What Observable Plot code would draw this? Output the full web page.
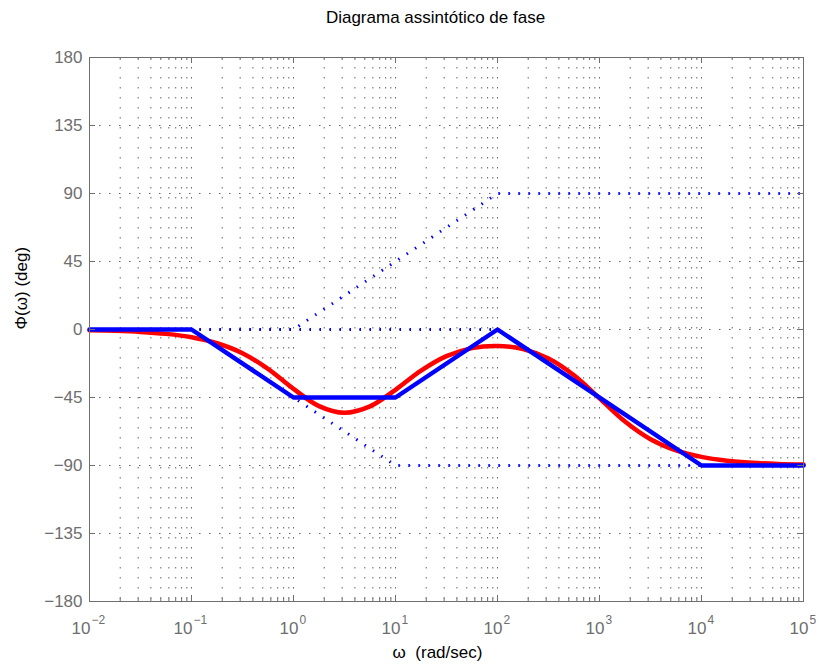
<!DOCTYPE html>
<html>
<head>
<meta charset="utf-8">
<script src="https://cdn.jsdelivr.net/npm/d3@7"></script>
<script src="https://cdn.jsdelivr.net/npm/@observablehq/plot@0.6"></script>
<style>
  html, body { margin: 0; padding: 0; background: #fff; }
</style>
</head>
<body>
<div id="chart"></div>
<script>
// ---- Data ----
const title = "Diagrama assintótico de fase";
const xLabel = "ω  (rad/sec)";
const yLabel = "Φ(ω) (deg)";

// exact phase curve (red), sampled every quarter decade
const exactW = [0.01, 0.0178, 0.0316, 0.0562, 0.1, 0.178, 0.316, 0.562, 1, 1.78, 3.16, 5.62, 10, 17.8, 31.6, 56.2, 100, 178, 316, 562, 1000, 1778, 3162, 5623, 1e4, 17783, 31623, 56234, 1e5];
const exactPhase = [-0.5, -0.9, -1.6, -2.9, -5.1, -9.1, -15.7, -26.1, -39.3, -50.7, -55.1, -50.9, -39.9, -27.2, -17.6, -12.3, -10.9, -13.0, -19.2, -30.3, -45.5, -60.9, -72.6, -80.0, -84.3, -86.8, -88.2, -89.0, -89.4];

// total asymptotic phase (solid blue)
const asymW = [0.01, 0.1, 1, 10, 100, 1e4, 1e5];
const asymPhase = [0, 0, -45, -45, 0, -90, -90];

// individual factor asymptotes (dotted blue)
const pole1W = [0.01, 0.1, 10, 1e5];
const pole1Phase = [0, 0, -90, -90];
const zero10W = [0.01, 1, 100, 1e5];
const zero10Phase = [0, 0, 90, 90];
const pole1000W = [0.01, 100, 1e4, 1e5];
const pole1000Phase = [0, 0, -90, -90];

// ticks
const xExponents = [-2, -1, 0, 1, 2, 3, 4, 5];
const xMinorMultipliers = [2, 3, 4, 5, 6, 7, 8, 9];
const yTicks = [-180, -135, -90, -45, 0, 45, 90, 135, 180];

// ---- Build tables ----
const zip = (xs, ys) => xs.map((x, i) => ({x, y: ys[i]}));
const exact = zip(exactW, exactPhase);
const asym = zip(asymW, asymPhase);
const comps = [zip(pole1W, pole1Phase), zip(zero10W, zero10Phase), zip(pole1000W, pole1000Phase)];
const xMajor = xExponents.map(e => 10 ** e);
const xMinor = [];
for (const e of xExponents.slice(0, -1)) for (const m of xMinorMultipliers) xMinor.push(m * 10 ** e);
const xGrid = xMajor.concat(xMinor);

const W = 819, H = 664;
const mL = 89, mR = 16, mT = 57, mB = 63;
const plotH = H - mT - mB;
const plotW = W - mL - mR;
const gray = "#6e6e6e";
const fmt = v => v < 0 ? "\u2212" + Math.abs(v) : String(v);

const negExp = xExponents.filter(e => e < 0);
const posExp = xExponents.filter(e => e >= 0);

const chart = Plot.plot({
  width: W, height: H,
  marginLeft: mL, marginRight: mR, marginTop: mT, marginBottom: mB,
  style: {fontFamily: "'Liberation Sans', Arial, Helvetica, sans-serif", background: "#fff", overflow: "visible"},
  x: {type: "log", domain: [1e-2, 1e5], axis: null},
  y: {domain: [-180, 180], axis: null},
  marks: [
    // grid
    Plot.ruleX(xGrid, {x: d => d, stroke: "#666", strokeWidth: 1, strokeDasharray: "1.5,8.5"}),
    Plot.ruleY(yTicks, {y: d => d, stroke: "#666", strokeWidth: 1, strokeDasharray: "1.5,8.5"}),
    // dotted factor asymptotes
    ...comps.map(c => Plot.line(c, {x: "x", y: "y", stroke: "#0000ff", strokeWidth: 3, strokeDasharray: "1.5,8.5", strokeLinecap: "butt"})),
    // exact curve
    Plot.line(exact, {x: "x", y: "y", stroke: "#ff0000", strokeWidth: 4.5, curve: "catmull-rom"}),
    // asymptotic total
    Plot.line(asym, {x: "x", y: "y", stroke: "#0000ff", strokeWidth: 4.5}),
    // frame
    Plot.frame({stroke: gray, strokeWidth: 1}),
    // inward ticks
    Plot.tickX(xMajor, {x: d => d, stroke: gray, insetTop: plotH - 6}),
    Plot.tickX(xMajor, {x: d => d, stroke: gray, insetBottom: plotH - 6}),
    Plot.tickX(xMinor, {x: d => d, stroke: gray, insetTop: plotH - 3}),
    Plot.tickX(xMinor, {x: d => d, stroke: gray, insetBottom: plotH - 3}),
    Plot.tickY(yTicks, {y: d => d, stroke: gray, insetRight: plotW - 6}),
    Plot.tickY(yTicks, {y: d => d, stroke: gray, insetLeft: plotW - 6}),
    // y tick labels
    Plot.text(yTicks, {y: d => d, frameAnchor: "left", dx: -7, textAnchor: "end", text: fmt, fontSize: 17, fill: gray}),
    // x tick labels: "10" + superscript exponent
    Plot.text(negExp, {x: e => 10 ** e, frameAnchor: "bottom", dy: 32, dx: 1, lineAnchor: "bottom", textAnchor: "end", text: () => "10", fontSize: 17, fill: gray}),
    Plot.text(negExp, {x: e => 10 ** e, frameAnchor: "bottom", dy: 22, dx: 2, lineAnchor: "bottom", textAnchor: "start", text: fmt, fontSize: 12, fill: gray}),
    Plot.text(posExp, {x: e => 10 ** e, frameAnchor: "bottom", dy: 32, dx: 5, lineAnchor: "bottom", textAnchor: "end", text: () => "10", fontSize: 17, fill: gray}),
    Plot.text(posExp, {x: e => 10 ** e, frameAnchor: "bottom", dy: 22, dx: 6, lineAnchor: "bottom", textAnchor: "start", text: fmt, fontSize: 12, fill: gray}),
    // title and axis labels
    Plot.text([title], {frameAnchor: "top", dx: -11, dy: -35, lineAnchor: "bottom", text: d => d, fontSize: 17, fill: "#000"}),
    Plot.text([xLabel], {frameAnchor: "bottom", dx: -9, dy: 56, lineAnchor: "bottom", text: d => d, fontSize: 17, fill: "#000"}),
    Plot.text([yLabel], {frameAnchor: "left", dx: -68, rotate: -90, text: d => d, fontSize: 17, fill: "#000"})
  ]
});
document.getElementById("chart").appendChild(chart);
</script>
</body>
</html>
